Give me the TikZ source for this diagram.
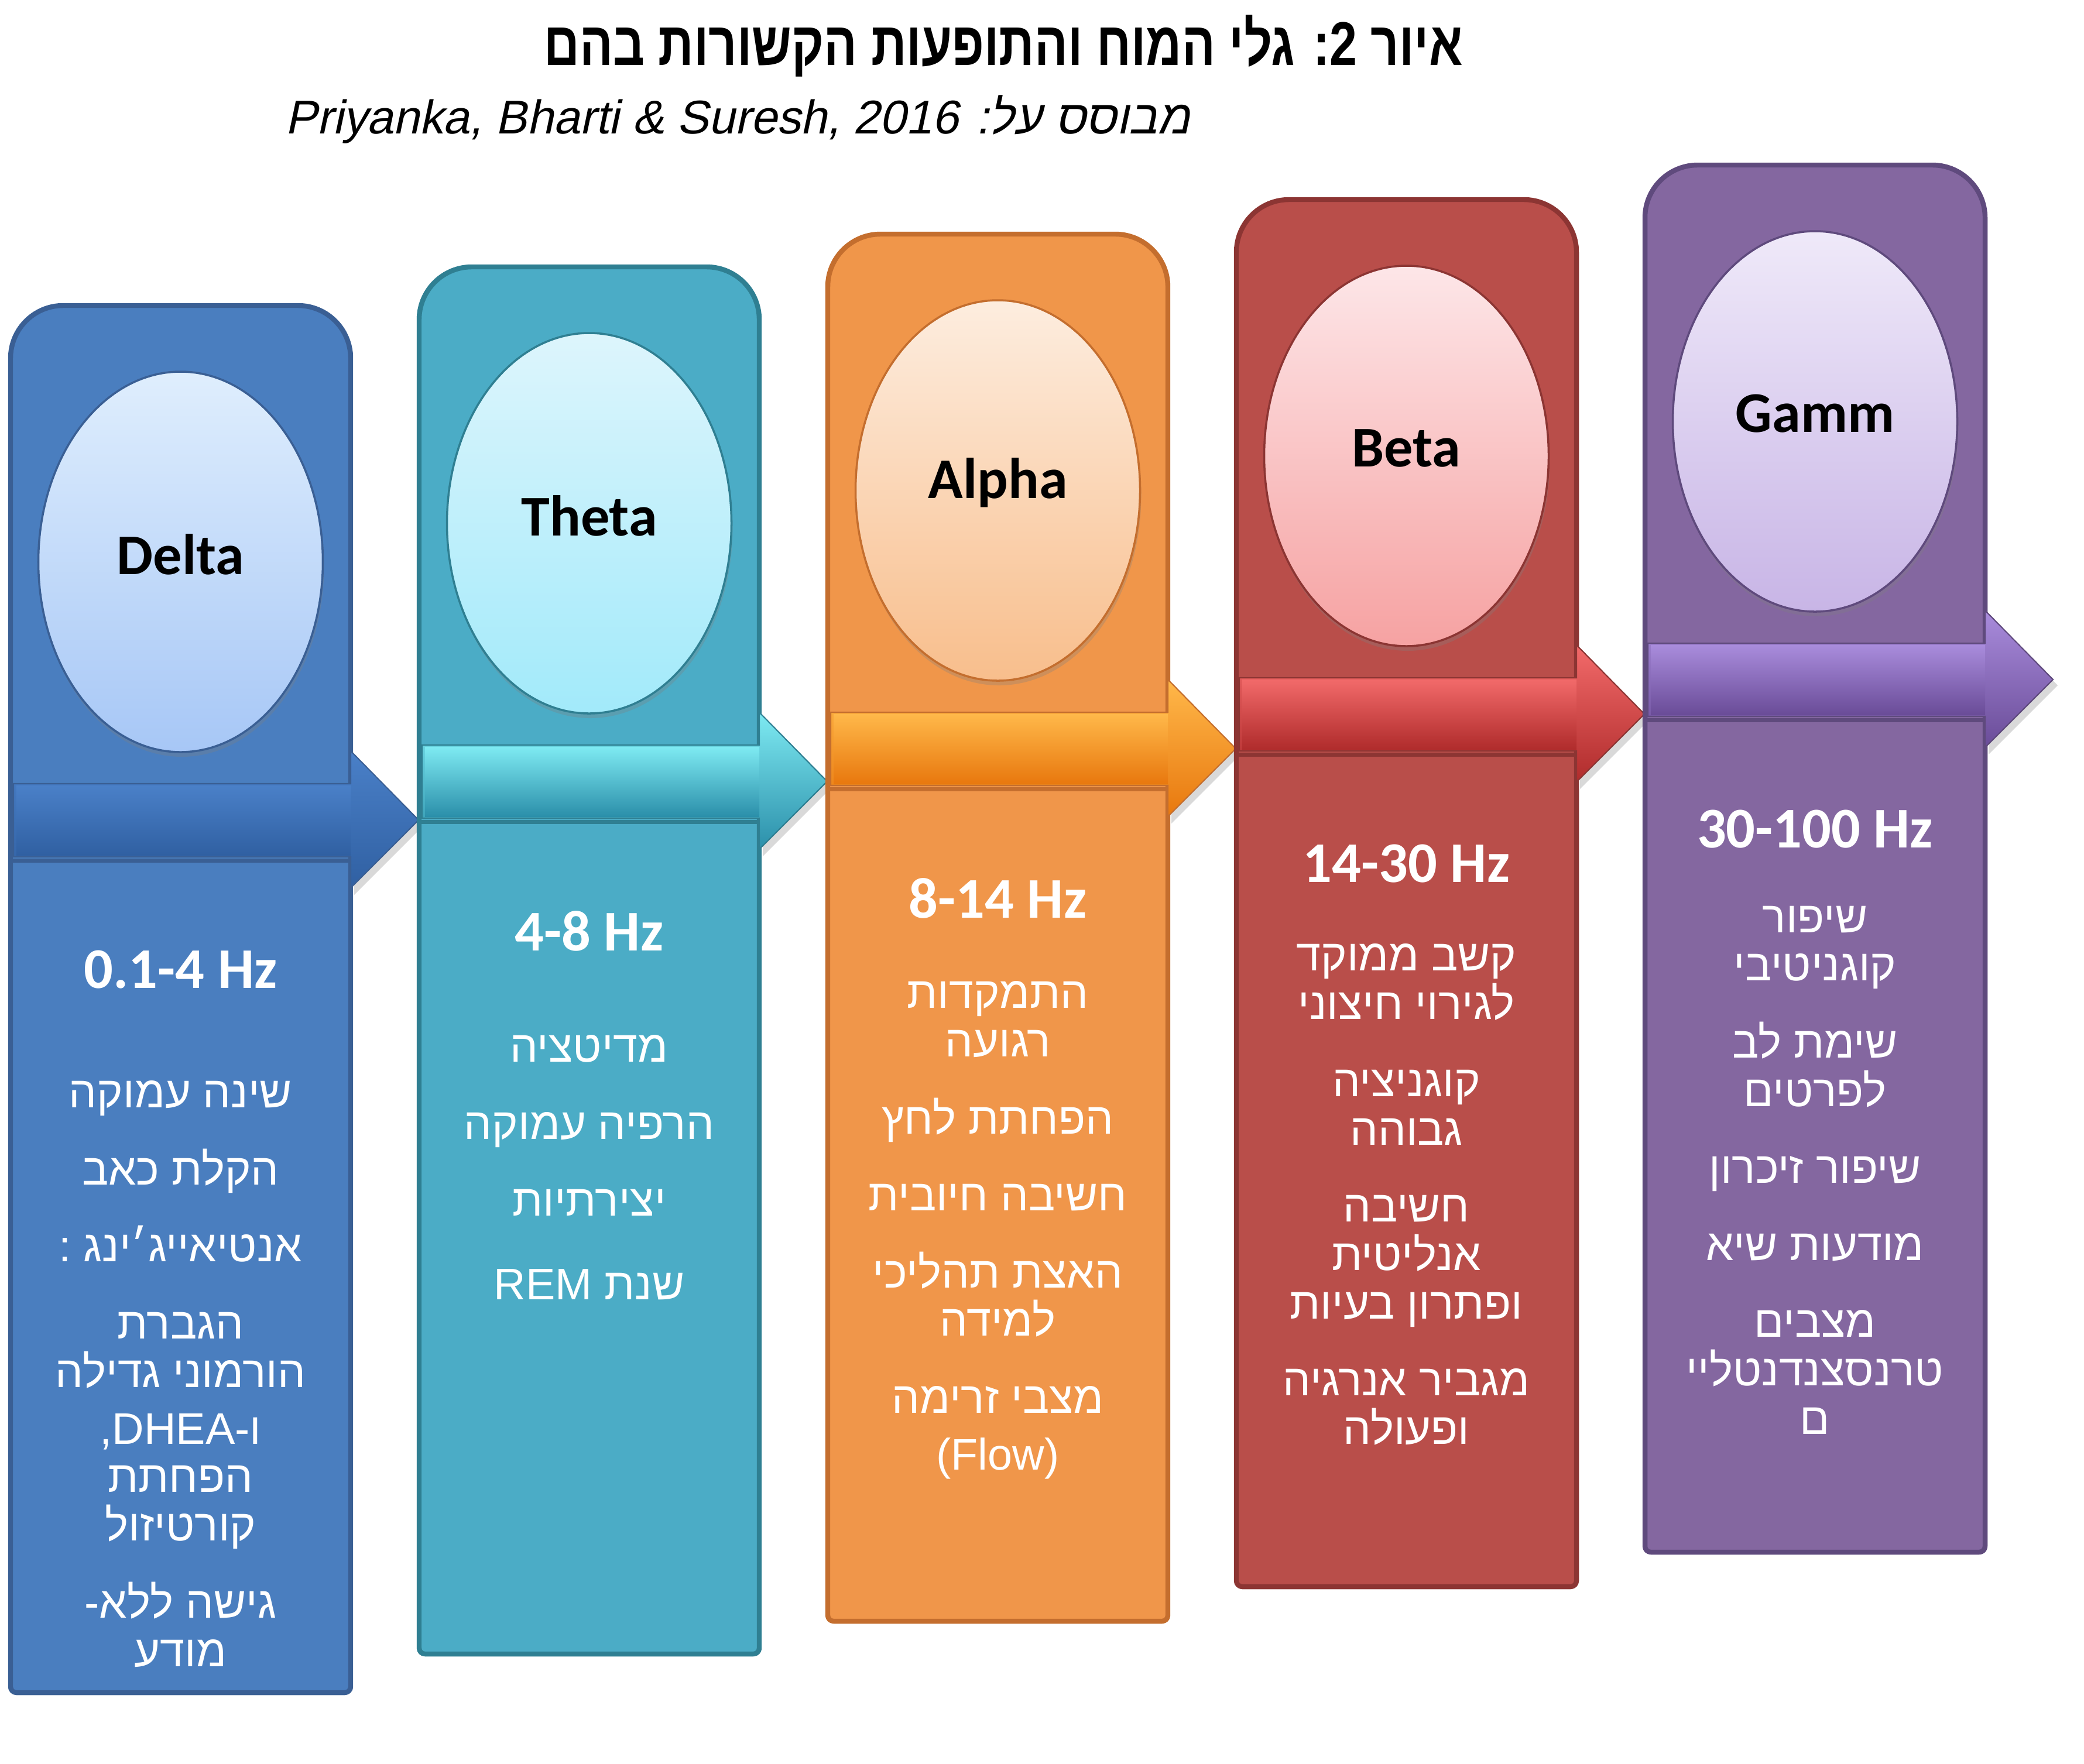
\documentclass[tikz,border=0pt]{standalone}
\usepackage{fontspec}
\setmainfont{Carlito}
\newfontfamily\hebfont[Script=Hebrew]{Liberation Sans}
\newfontfamily\hebtitle[Script=Hebrew,FakeStretch=0.8]{Liberation Sans}
\newfontfamily\hebslant[Script=Hebrew,FakeSlant=0.21]{Liberation Sans}
\TeXXeTstate=1
\usepackage{tikz}
\usetikzlibrary{calc,positioning,shapes.geometric,shadows}

\definecolor{colfill0}{HTML}{4A7EBF}\definecolor{colline0}{HTML}{3A5F94}
\definecolor{bubtop0}{HTML}{DFEEFD}\definecolor{bubbot0}{HTML}{A7C7F6}
\definecolor{bandtop0}{HTML}{4A80C8}\definecolor{bandbot0}{HTML}{3060A2}
\definecolor{colfill1}{HTML}{4BACC6}\definecolor{colline1}{HTML}{2F7F92}
\definecolor{bubtop1}{HTML}{DDF5FC}\definecolor{bubbot1}{HTML}{A2EAFA}
\definecolor{bandtop1}{HTML}{7EEAF2}\definecolor{bandbot1}{HTML}{2B8FAA}
\definecolor{colfill2}{HTML}{F0964A}\definecolor{colline2}{HTML}{C46E2E}
\definecolor{bubtop2}{HTML}{FDEDDF}\definecolor{bubbot2}{HTML}{F8BE8C}
\definecolor{bandtop2}{HTML}{FFB84A}\definecolor{bandbot2}{HTML}{E8780E}
\definecolor{colfill3}{HTML}{B94E4A}\definecolor{colline3}{HTML}{8C3533}
\definecolor{bubtop3}{HTML}{FDE6E8}\definecolor{bubbot3}{HTML}{F6A2A2}
\definecolor{bandtop3}{HTML}{F26A6A}\definecolor{bandbot3}{HTML}{B02C2C}
\definecolor{colfill4}{HTML}{8467A0}\definecolor{colline4}{HTML}{5F4A7D}
\definecolor{bubtop4}{HTML}{EFE9F9}\definecolor{bubbot4}{HTML}{C8B5E6}
\definecolor{bandtop4}{HTML}{A98CDC}\definecolor{bandbot4}{HTML}{6A4C98}

\newcommand{\heb}[1]{\beginR #1\endR}
\newcommand{\fxgap}{13.8pt}

\tikzset{
  column/.style={line width=2.4pt, line join=round},
  bubble/.style={ellipse, minimum width=4.86cm, minimum height=6.5cm, line width=1pt,
    drop shadow={opacity=0.3, shadow xshift=0.02cm, shadow yshift=-0.08cm}},
  wavename/.style={font=\fontsize{28}{30}\selectfont\bfseries, text=black},
  hzlabel/.style={font=\fontsize{28}{30}\selectfont\bfseries, text=white},
  effects/.style={font=\hebfont\fontsize{21.5}{23.6}\selectfont, text=white, align=center, inner sep=0pt},
}

\begin{document}
\begin{tikzpicture}
\useasboundingbox (0,0) rectangle (35.6,-30.13);
% Title and source
\node[font=\hebtitle\bfseries\fontsize{30}{34}\selectfont] (title) at (17.14,-0.79)
  {\beginR איור 2: גלי המוח והתופעות הקשורות בהם\endR};
\node[font=\hebslant\fontsize{23}{27}\selectfont] (source) at (12.6,-2.04)
  {\beginR מבוסס על: \beginL Priyanka, Bharti \& Suresh, 2016\endL\endR};
% Columns with arrows
\foreach \wave/\hz/\colt [count=\i from 0] in {Delta/0.1-4 Hz/5.22, Theta/4-8 Hz/4.56,
    Alpha/8-14 Hz/4.00, Beta/14-30 Hz/3.41, Gamm/30-100 Hz/2.82}{
  \pgfmathsetmacro{\xl}{0.18+6.98*\i}
  \pgfmathsetmacro{\xr}{\xl+5.81}
  \pgfmathsetmacro{\xc}{\xl+2.905}
  \pgfmathsetmacro{\yt}{-\colt}
  \pgfmathsetmacro{\yb}{\yt-23.70}
  \draw[column, fill=colfill\i, draw=colline\i]
    (\xl,\yb+0.1) -- (\xl,\yt-0.9) arc[start angle=180, end angle=90, radius=0.9]
    -- (\xr-0.9,\yt) arc[start angle=90, end angle=0, radius=0.9]
    -- (\xr,\yb+0.1) arc[start angle=0, end angle=-90, radius=0.1]
    -- (\xl+0.1,\yb) arc[start angle=270, end angle=180, radius=0.1] -- cycle;
  % head shadow
  \fill[black, opacity=0.15] (\xr+0.06,\yt-7.71) -- (\xr+1.24,\yt-8.89) -- (\xr+0.06,\yt-10.07) -- cycle;
  \shade[top color=bandtop\i, bottom color=bandbot\i, draw=colline\i, line width=0.6pt]
    (\xl+0.05,\yt-8.17) -- (\xr,\yt-8.17) -- (\xr,\yt-7.61) -- (\xr+1.16,\yt-8.79)
    -- (\xr,\yt-9.95) -- (\xr,\yt-9.42) -- (\xl+0.05,\yt-9.42) -- cycle;
  \shade[top color=bandtop\i, bottom color=bandbot\i] (\xl+0.1,\yt-8.2) rectangle (\xr,\yt-9.39);
  \draw[colline\i, line width=2pt] (\xl,\yt-9.48) -- (\xr,\yt-9.48);
  \node[bubble, top color=bubtop\i, bottom color=bubbot\i, draw=colline\i] (bub\i) at (\xc,\yt-4.38) {};
  \node[wavename] (name\i) at ($(bub\i)+(0,0.13)$) {\wave};
  \node[hzlabel] (hz\i) at (\xc,\yt-11.35) {\hz};
}
% Effects lists
\node[effects, below=1.89cm of hz0.center] (fx0) {%
  \heb{שינה עמוקה}\\[\fxgap]
  \heb{הקלת כאב}\\[\fxgap]
  \heb{אנטיאייג׳ינג :}\\[\fxgap]
  \heb{הגברת}\\
  \heb{הורמוני גדילה}\\[4pt]
  \heb{ו-\beginL DHEA\endL,}\\
  \heb{הפחתת}\\
  \heb{קורטיזול}\\[\fxgap]
  \heb{גישה ללא-}\\
  \heb{מודע}};
\node[effects, below=1.77cm of hz1.center] (fx1) {%
  \heb{מדיטציה}\\[\fxgap]
  \heb{הרפיה עמוקה}\\[\fxgap]
  \heb{יצירתיות}\\[17pt]
  \heb{שנת \beginL REM\endL}};
\node[effects, below=1.41cm of hz2.center] (fx2) {%
  \heb{התמקדות}\\
  \heb{רגועה}\\[\fxgap]
  \heb{הפחתת לחץ}\\[\fxgap]
  \heb{חשיבה חיובית}\\[\fxgap]
  \heb{האצת תהליכי}\\
  \heb{למידה}\\[\fxgap]
  \heb{מצבי זרימה}\\[4pt]
  (Flow)};
\node[effects, below=1.36cm of hz3.center] (fx3) {%
  \heb{קשב ממוקד}\\
  \heb{לגירוי חיצוני}\\[\fxgap]
  \heb{קוגניציה}\\
  \heb{גבוהה}\\[\fxgap]
  \heb{חשיבה}\\
  \heb{אנליטית}\\
  \heb{ופתרון בעיות}\\[\fxgap]
  \heb{מגביר אנרגיה}\\
  \heb{ופעולה}};
\node[effects, below=1.30cm of hz4.center] (fx4) {%
  \heb{שיפור}\\
  \heb{קוגניטיבי}\\[\fxgap]
  \heb{שימת לב}\\
  \heb{לפרטים}\\[\fxgap]
  \heb{שיפור זיכרון}\\[\fxgap]
  \heb{מודעות שיא}\\[\fxgap]
  \heb{מצבים}\\
  \heb{טרנסצנדנטליי}\\
  \heb{ם}};
\end{tikzpicture}
\end{document}
